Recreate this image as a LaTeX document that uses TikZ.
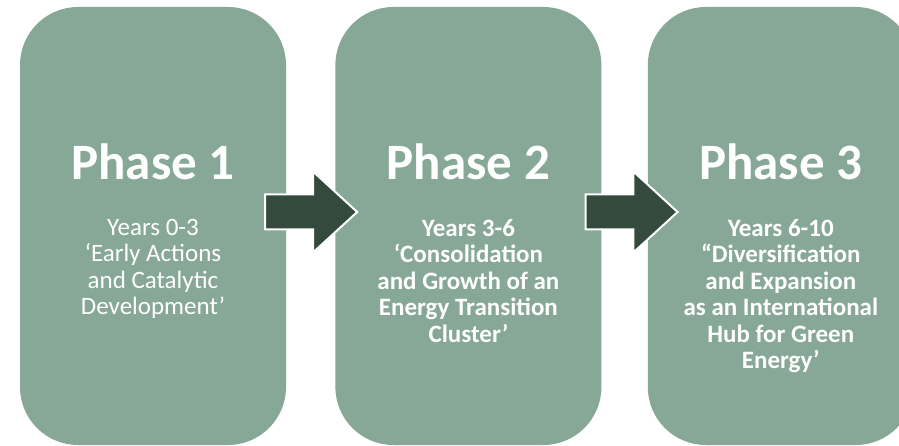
\documentclass[tikz,border=0pt]{standalone}
\usepackage{fontspec}
\setmainfont{Carlito}
\usepackage{xcolor}
\usetikzlibrary{shapes.arrows,positioning}
\definecolor{phasegreen}{HTML}{87A897}
\definecolor{arrowgreen}{HTML}{334A3C}

\begin{document}
\begin{tikzpicture}[x=1pt, y=-1pt,
    phase/.style={fill=phasegreen, rounded corners=58pt, minimum width=266pt,
                  minimum height=438pt, inner sep=0pt},
    title/.style={text=white, font=\fontsize{51}{60}\selectfont\bfseries,
                  anchor=base, inner sep=0pt},
    sub/.style={text=white, font=\fontsize{25}{26.5}\selectfont,
                align=center, inner sep=0pt},
    subbf/.style={sub, font=\fontsize{25}{26.5}\selectfont\bfseries},
    blockarrow/.style={single arrow, fill=arrowgreen, draw=white, line width=2pt,
                       minimum height=92pt, single arrow head extend=23pt,
                       single arrow tip angle=85, inner xsep=0pt, inner ysep=16.5pt,
                       anchor=tail}
]
\useasboundingbox (0,0) rectangle (899,446);

%% PHASE BOXES
\node[phase] (p1) at (153,226) {};
\node[phase, right=49pt of p1] (p2) {};
\node[phase, right=46pt of p2] (p3) {};

%% TITLES
\node[title] (t1) at ([yshift=46pt]p1.center) {Phase 1};
\node[title] (t2) at ([yshift=46pt]p2.center) {Phase 2};
\node[title] (t3) at ([yshift=46pt]p3.center) {Phase 3};

%% DESCRIPTIONS
\node[sub, below=39pt of t1.base] (s1)
    {Years 0-3\\‘Early Actions\\and Catalytic\\Development’};
\node[subbf, below=39pt of t2.base] (s2)
    {Years 3-6\\‘Consolidation\\and Growth of an\\Energy Transition\\Cluster’};
\node[subbf, below=39pt of t3.base] (s3)
    {Years 6-10\\“Diversification\\and Expansion\\as an International\\Hub for Green\\Energy’};

%% ARROWS between phases
\node[blockarrow] (a12) at ([xshift=-22pt, yshift=14pt]p1.east) {};
\node[blockarrow] (a23) at ([xshift=-17pt, yshift=14pt]p2.east) {};

\end{tikzpicture}
\end{document}
